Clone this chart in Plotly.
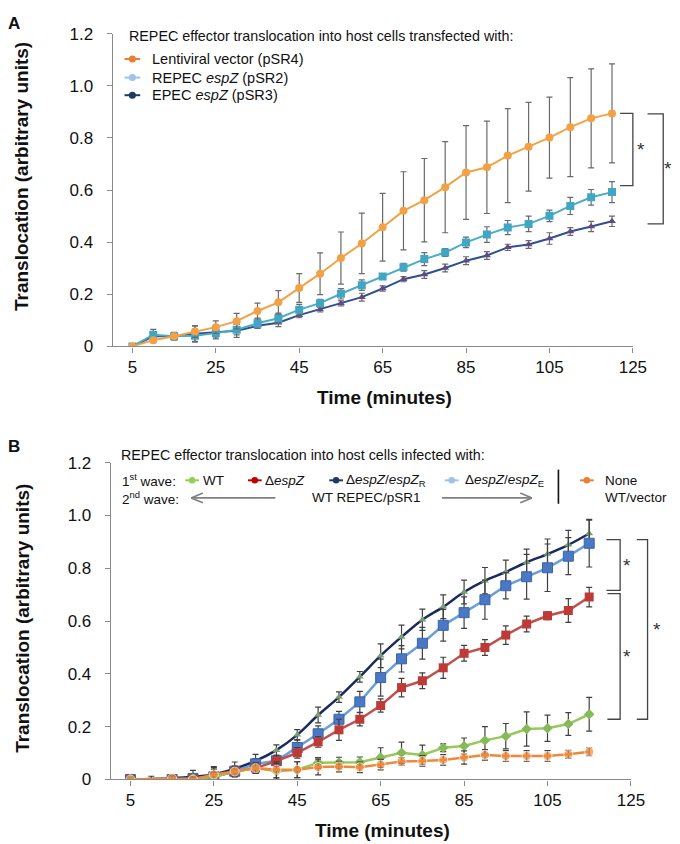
import plotly.graph_objects as go

W, H = 680, 844

# ---------------- Panel A data ----------------
timeA = [5, 10, 15, 20, 25, 30, 35, 40, 45, 50, 55, 60, 65, 70, 75, 80, 85, 90, 95, 100, 105, 110, 115, 120]
lenti = [0, 0.024, 0.039, 0.057, 0.074, 0.097, 0.136, 0.169, 0.224, 0.279, 0.339, 0.395, 0.457, 0.52,
         0.561, 0.611, 0.667, 0.687, 0.732, 0.766, 0.801, 0.841, 0.875, 0.894]
lenti_err = [0, 0.01, 0.01, 0.022, 0.024, 0.03, 0.03, 0.045, 0.055, 0.08, 0.1, 0.116, 0.13, 0.15,
             0.16, 0.175, 0.18, 0.177, 0.18, 0.17, 0.155, 0.19, 0.19, 0.19]
repec = [0, 0.045, 0.039, 0.041, 0.051, 0.064, 0.089, 0.108, 0.141, 0.166, 0.202, 0.235, 0.268, 0.304,
         0.335, 0.36, 0.399, 0.429, 0.456, 0.47, 0.501, 0.539, 0.572, 0.592]
repec_err = [0, 0.02, 0.015, 0.025, 0.015, 0.02, 0.02, 0.02, 0.02, 0.015, 0.02, 0.02, 0.01, 0.015,
             0.025, 0.015, 0.02, 0.03, 0.027, 0.03, 0.022, 0.033, 0.03, 0.04]
epec = [0, 0.039, 0.039, 0.049, 0.054, 0.06, 0.079, 0.091, 0.12, 0.142, 0.165, 0.189, 0.222, 0.258,
        0.276, 0.301, 0.329, 0.349, 0.38, 0.391, 0.414, 0.441, 0.46, 0.48]
epec_err = [0, 0.01, 0.01, 0.03, 0.025, 0.025, 0.01, 0.015, 0.01, 0.01, 0.01, 0.015, 0.01, 0.01,
            0.015, 0.015, 0.015, 0.015, 0.012, 0.015, 0.022, 0.015, 0.02, 0.02]

# ---------------- Panel B data ----------------
timeB = [5, 10, 15, 20, 25, 30, 35, 40, 45, 50, 55, 60, 65, 70, 75, 80, 85, 90, 95, 100, 105, 110, 115]
espZR = [0, None, 0.005, 0.01, 0.019, 0.041, 0.07, 0.111, 0.169, 0.244, 0.312, 0.389, 0.469, 0.54,
         0.605, 0.654, 0.71, 0.753, 0.786, 0.823, 0.854, 0.889, 0.932]
espZR_err = [0, 0, 0.01, 0.01, 0.02, 0.025, 0.025, 0.02, 0.02, 0.03, 0.02, 0.02, 0.045, 0.045,
             0.04, 0.045, 0.045, 0.05, 0.045, 0.05, 0.057, 0.055, 0.05]
espZE = [0, None, 0, 0.004, 0.01, 0.031, 0.059, 0.071, 0.121, 0.173, 0.228, 0.294, 0.386, 0.457,
         0.516, 0.584, 0.632, 0.681, 0.734, 0.768, 0.802, 0.846, 0.895]
espZE_err = [0, 0, 0.01, 0.03, 0.035, 0.02, 0.02, 0.02, 0.03, 0.03, 0.03, 0.04, 0.07, 0.05,
             0.06, 0.06, 0.06, 0.074, 0.05, 0.085, 0.09, 0.07, 0.09]
despZ = [0, None, 0, 0.003, 0.01, 0.03, 0.043, 0.07, 0.101, 0.142, 0.188, 0.228, 0.28, 0.348,
         0.374, 0.423, 0.478, 0.5, 0.547, 0.589, 0.62, 0.64, 0.691]
despZ_err = [0, 0, 0.005, 0.005, 0.01, 0.01, 0.015, 0.02, 0.02, 0.02, 0.04, 0.025, 0.025, 0.035,
             0.03, 0.04, 0.03, 0.03, 0.035, 0.03, 0.015, 0.045, 0.037]
wt = [0, None, 0, 0.003, 0.01, 0.03, 0.043, 0.031, 0.037, 0.063, 0.064, 0.065, 0.083, 0.101,
      0.093, 0.12, 0.127, 0.148, 0.164, 0.191, 0.194, 0.21, 0.247]
wt_err = [0, 0, 0.005, 0.01, 0.01, 0.01, 0.02, 0.03, 0.03, 0.02, 0.02, 0.02, 0.037, 0.04,
          0.037, 0.015, 0.03, 0.052, 0.048, 0.065, 0.05, 0.043, 0.064]
none = [0, 0.002, 0.004, 0.0, 0.019, 0.03, 0.043, 0.037, 0.037, 0.047, 0.049, 0.046, 0.056, 0.068,
        0.07, 0.074, 0.083, 0.093, 0.089, 0.089, 0.089, 0.095, 0.105]
none_err = [0, 0.01, 0.01, 0.01, 0.03, 0.02, 0.02, 0.03, 0.03, 0.03, 0.02, 0.02, 0.02, 0.015,
            0.02, 0.02, 0.025, 0.02, 0.02, 0.02, 0.02, 0.015, 0.015]

x_ticks = [5, 25, 45, 65, 85, 105, 125]
y_ticks = [0, 0.2, 0.4, 0.6, 0.8, 1.0, 1.2]
y_ticktext = ["0", "0.2", "0.4", "0.6", "0.8", "1.0", "1.2"]

FONT = "Liberation Sans, Arial, sans-serif"

def px(x):
    return x / W

def py(y):
    return 1 - y / H

# axis placement (pixels)
A_x0, A_x1, A_ytop, A_ybot = 107, 638, 17, 337
B_x0, B_x1, B_ytop, B_ybot = 105, 636, 456, 780
XR = [0.3, 125]
YR = [0, 1.2]

def yA(v):
    return py(A_ybot) + v / 1.2 * (py(A_ytop) - py(A_ybot))

def yB(v):
    return py(B_ybot) + v / 1.2 * (py(B_ytop) - py(B_ybot))

fig = go.Figure()

def err(arr, color, thick=1.2):
    return dict(type="data", array=arr, visible=True, color=color, thickness=thick, width=3)

# Panel A traces
fig.add_trace(go.Scatter(x=timeA, y=epec, mode="lines+markers", xaxis="x", yaxis="y",
                         line=dict(color="#2F4F8F", width=2),
                         marker=dict(symbol="triangle-up", size=7, color="#5E4B85"),
                         error_y=err(epec_err, "#6a6a6a"), showlegend=False))
fig.add_trace(go.Scatter(x=timeA, y=repec, mode="lines+markers", xaxis="x", yaxis="y",
                         line=dict(color="#4BACC6", width=2),
                         marker=dict(symbol="square", size=8, color="#40A6C4"),
                         error_y=err(repec_err, "#6a6a6a"), showlegend=False))
fig.add_trace(go.Scatter(x=timeA, y=lenti, mode="lines+markers", xaxis="x", yaxis="y",
                         line=dict(color="#F4A145", width=2),
                         marker=dict(symbol="circle", size=8, color="#F4A145"),
                         error_y=err(lenti_err, "#6a6a6a"), showlegend=False))

# Panel B traces
fig.add_trace(go.Scatter(x=timeB, y=espZR, mode="lines+markers", xaxis="x2", yaxis="y2",
                         connectgaps=True, line=dict(color="#1B2A5E", width=2.5, shape="spline"),
                         marker=dict(symbol="triangle-up", size=7, color="#78A06E"),
                         error_y=err(espZR_err, "#404040"), showlegend=False))
fig.add_trace(go.Scatter(x=timeB, y=espZE, mode="lines+markers", xaxis="x2", yaxis="y2",
                         connectgaps=True, line=dict(color="#6A9FDA", width=2.5),
                         marker=dict(symbol="square", size=10, color="#4A78C4",
                                     line=dict(color="#3A64A8", width=1)),
                         error_y=err(espZE_err, "#404040"), showlegend=False))
fig.add_trace(go.Scatter(x=timeB, y=despZ, mode="lines+markers", xaxis="x2", yaxis="y2",
                         connectgaps=True, line=dict(color="#C0504D", width=2.5),
                         marker=dict(symbol="square", size=9, color="#BE3A36"),
                         error_y=err(despZ_err, "#404040"), showlegend=False))
fig.add_trace(go.Scatter(x=timeB, y=wt, mode="lines+markers", xaxis="x2", yaxis="y2",
                         connectgaps=True, line=dict(color="#97C95C", width=2.5),
                         marker=dict(symbol="diamond", size=8, color="#86B957"),
                         error_y=err(wt_err, "#404040"), showlegend=False))
none_sizes = [9] * len(none)
none_sizes[1] = 0
fig.add_trace(go.Scatter(x=timeB, y=none, mode="lines+markers", xaxis="x2", yaxis="y2",
                         connectgaps=True, line=dict(color="#F0883A", width=2.5),
                         marker=dict(symbol="circle", size=none_sizes, color="#F0883A"),
                         error_y=err(none_err, "#404040"), showlegend=False))

axis_common = dict(showline=True, linecolor="#8a8a8a", linewidth=1.3, ticks="outside",
                   ticklen=5, tickcolor="#8a8a8a", tickwidth=1.2, showgrid=False, zeroline=False,
                   tickfont=dict(family=FONT, size=17, color="#111"))

fig.update_layout(
    width=W, height=H, margin=dict(l=0, r=0, t=0, b=0),
    paper_bgcolor="white", plot_bgcolor="white",
    font=dict(family=FONT, color="#111"),
    xaxis=dict(domain=[px(A_x0), px(A_x1)], range=XR, tickvals=x_ticks, anchor="y", **axis_common),
    yaxis=dict(domain=[py(A_ybot), py(A_ytop)], range=YR, tickvals=y_ticks, ticktext=y_ticktext,
               anchor="x", ticklabelstandoff=10, **axis_common),
    xaxis2=dict(domain=[px(B_x0), px(B_x1)], range=XR, tickvals=x_ticks, anchor="y2", **axis_common),
    yaxis2=dict(domain=[py(B_ybot), py(B_ytop)], range=YR, tickvals=y_ticks, ticktext=y_ticktext,
                anchor="x2", ticklabelstandoff=10, **axis_common),
)

ann = []
shapes = []

def text(x, y, t, size=14, bold=False, xanchor="left", angle=0, color="#111"):
    if bold:
        t = "<b>" + t + "</b>"
    ann.append(dict(x=px(x), y=py(y), xref="paper", yref="paper", text=t, showarrow=False,
                    xanchor=xanchor, yanchor="middle", textangle=angle,
                    font=dict(family=FONT, size=size, color=color)))

def legmark(x, y, color, half=8, r=3.6):
    shapes.append(dict(type="line", xref="paper", yref="paper", x0=px(x - half), x1=px(x + half),
                       y0=py(y), y1=py(y), line=dict(color=color, width=2)))
    shapes.append(dict(type="circle", xref="paper", yref="paper", x0=px(x - r), x1=px(x + r),
                       y0=py(y + r), y1=py(y - r), fillcolor=color, line=dict(color=color, width=0)))

def line(x0, y0, x1, y1, color="#444", width=1.3):
    shapes.append(dict(type="line", xref="paper", yref="paper", x0=x0, x1=x1, y0=y0, y1=y1,
                       line=dict(color=color, width=width)))

# Panel labels
text(6, 7, "A", size=17, bold=True, xanchor="center")
text(6, 439, "B", size=17, bold=True, xanchor="center")

# Axis titles
text(14, 163, "Translocation (arbitrary units)", size=19, bold=True, xanchor="center", angle=-90)
text(384, 389, "Time (minutes)", size=19, bold=True, xanchor="center")
text(14, 615, "Translocation (arbitrary units)", size=19, bold=True, xanchor="center", angle=-90)
text(382, 832, "Time (minutes)", size=19, bold=True, xanchor="center")

# Panel A legend
text(122, 19, "REPEC effector translocation into host cells transfected with:", size=14.3)
legA = [("Lentiviral vector (pSR4)", "#ED7D31", 43),
        ("REPEC <i>espZ</i> (pSR2)", "#9DC3E6", 62),
        ("EPEC <i>espZ</i> (pSR3)", "#1F3864", 80)]
for lbl, col, yy in legA:
    legmark(127, yy, col)
    text(145, yy, lbl, size=14.5)

# Panel B legend
text(113, 448, "REPEC effector translocation into host cells infected with:", size=14.3)
r1, r2 = 474, 492
text(114, r1, "1<sup>st</sup> wave:", size=13.5)
text(114, r2, "2<sup>nd</sup> wave:", size=13.5)
legB = [("WT", "#92D050", 188, 197),
        ("Δ<i>espZ</i>", "#C00000", 252, 260),
        ("Δ<i>espZ</i>/<i>espZ</i><sub>R</sub>", "#1F3864", 335, 343),
        ("Δ<i>espZ</i>/<i>espZ</i><sub>E</sub>", "#9DC3E6", 453, 465),
        ("None", "#ED7D31", 591, 608)]
for lbl, col, mx, tx in legB:
    legmark(mx, r1, col, half=7, r=3.3)
    text(tx, r1, lbl, size=13.5)
text(308, r2, "WT REPEC/pSR1", size=13.5)
text(608, r2, "WT/vector", size=13.5)
# arrows
acol = "#808080"
line(px(187), py(r2), px(273), py(r2), acol, 1.6)
line(px(187), py(r2), px(199), py(r2 - 5), acol, 1.6)
line(px(187), py(r2), px(199), py(r2 + 5), acol, 1.6)
line(px(443), py(r2), px(535), py(r2), acol, 1.6)
line(px(535), py(r2), px(523), py(r2 - 5), acol, 1.6)
line(px(535), py(r2), px(523), py(r2 + 5), acol, 1.6)
# separator
line(px(562), py(463), px(562), py(498), "#111", 1.6)

# Significance brackets
def bracket(x0, x1, v0, v1, yfun, starx, col="#444"):
    p = "M {a},{b} L {c},{b} L {c},{d} L {a},{d}".format(a=px(x0), c=px(x1), b=yfun(v0), d=yfun(v1))
    shapes.append(dict(type="path", xref="paper", yref="paper", path=p, line=dict(color=col, width=1.3)))
    ymid = (yfun(v0) + yfun(v1)) / 2
    ann.append(dict(x=px(starx), y=ymid, xref="paper", yref="paper", text="*", showarrow=False,
                    xanchor="center", yanchor="middle", font=dict(family=FONT, size=19, color="#333")))

bracket(625, 638, 0.894, 0.617, yA, 646)
bracket(653, 669, 0.892, 0.470, yA, 674)
bracket(611, 625, 0.909, 0.716, yB, 632)
bracket(612, 625, 0.704, 0.228, yB, 632)
bracket(642, 653, 0.909, 0.228, yB, 663)

fig.update_layout(annotations=ann, shapes=shapes)
fig.write_html("out.html")
